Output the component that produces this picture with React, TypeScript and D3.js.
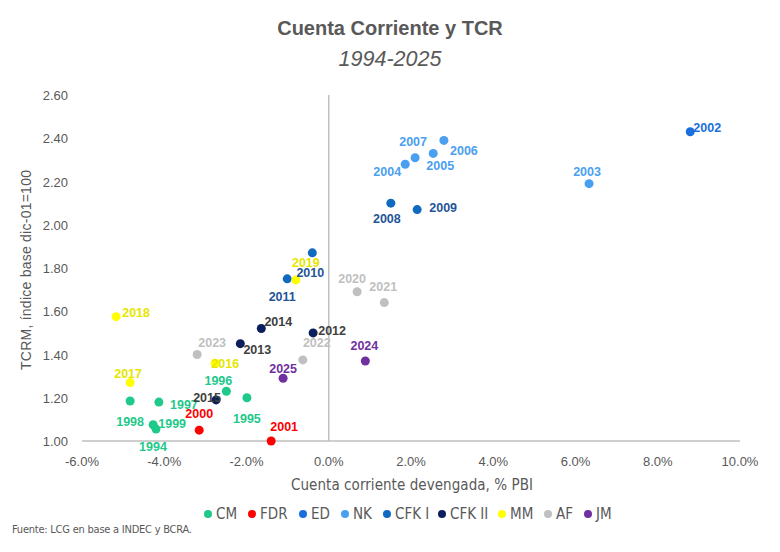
import React, { useEffect, useRef } from "react";
import * as d3 from "d3";

const years = [
  1994, 1995, 1996, 1997, 1998, 1999, 2000, 2001, 2002, 2003, 2004, 2005, 2006,
  2007, 2008, 2009, 2010, 2011, 2012, 2013, 2014, 2015, 2016, 2017, 2018, 2019,
  2020, 2021, 2022, 2023, 2024, 2025,
];

// cuenta corriente devengada, % PBI
const cuentaCorriente = [
  -4.2, -1.99, -2.49, -4.13, -4.83, -4.27, -3.15, -1.4, 8.79, 6.33, 1.86, 2.54,
  2.8, 2.1, 1.51, 2.15, -0.4, -1.01, -0.38, -2.15, -1.64, -2.74, -2.76, -4.83,
  -5.17, -0.8, 0.69, 1.35, -0.63, -3.2, 0.89, -1.11,
];

// TCRM, indice base dic-01 = 1
const tcrm = [
  1.055, 1.2, 1.23, 1.18, 1.185, 1.075, 1.05, 1.0, 2.43, 2.19, 2.28, 2.33, 2.39,
  2.31, 2.1, 2.07, 1.87, 1.75, 1.5, 1.45, 1.52, 1.19, 1.36, 1.27, 1.575, 1.745,
  1.69, 1.64, 1.375, 1.4, 1.37, 1.29,
];

const gobierno = [
  "CM", "CM", "CM", "CM", "CM", "CM", "FDR", "FDR", "ED", "NK", "NK", "NK", "NK",
  "NK", "CFK I", "CFK I", "CFK I", "CFK I", "CFK II", "CFK II", "CFK II",
  "CFK II", "MM", "MM", "MM", "MM", "AF", "AF", "AF", "AF", "JM", "JM",
];

const gobiernos = ["CM", "FDR", "ED", "NK", "CFK I", "CFK II", "MM", "AF", "JM"];

const xTicks = [-6, -4, -2, 0, 2, 4, 6, 8, 10];
const yTicks = [1.0, 1.2, 1.4, 1.6, 1.8, 2.0, 2.2, 2.4, 2.6];

const dotColor: Record<string, string> = {
  CM: "#1ec98a",
  FDR: "#ff0000",
  ED: "#1a6fdc",
  NK: "#4a9ff0",
  "CFK I": "#0f6ac0",
  "CFK II": "#0a1f5c",
  MM: "#ffff00",
  AF: "#c0c0c0",
  JM: "#7030a0",
};

const labelColor: Record<string, string> = {
  CM: "#1ec98a",
  FDR: "#ff0000",
  ED: "#1a6fdc",
  NK: "#4a9ff0",
  "CFK I": "#1f5597",
  "CFK II": "#404040",
  MM: "#e6e600",
  AF: "#bfbfbf",
  JM: "#7030a0",
};

// desplazamiento de cada etiqueta respecto de su punto (centro del texto)
const labelOffset: Record<number, [number, number]> = {
  1994: [-3, 17], 1995: [0, 21], 1996: [-8, -11], 1997: [25, 2],
  1998: [0, 21], 1999: [19, -1], 2000: [0, -17], 2001: [13, -15],
  2002: [17, -4], 2003: [-2, -12], 2004: [-18, 7], 2005: [7, 12],
  2006: [20, 10], 2007: [-2, -16], 2008: [-4, 15], 2009: [26, -2],
  2010: [-2, 20], 2011: [-5, 18], 2012: [19, -2], 2013: [17, 6],
  2014: [17, -7], 2015: [-9, -2], 2016: [10, 0], 2017: [-2, -9],
  2018: [20, -4], 2019: [10, -17], 2020: [-5, -13], 2021: [-1, -16],
  2022: [14, -17], 2023: [15, -12], 2024: [-1, -15], 2025: [0, -10],
};

const W = 780;
const H = 552;
const gray = "#595959";
const sans = "'Liberation Sans', Arial, sans-serif";
const narrow = "'Liberation Sans Narrow', 'DejaVu Sans Condensed', sans-serif";

const pct = (d: number) => d3.format(".1f")(d).replace("\u2212", "-") + "%";

const App = () => {
  const ref = useRef<SVGSVGElement>(null);

  useEffect(() => {
    const svg = d3.select(ref.current);
    svg.selectAll("*").remove();

    const margin = { top: 95, right: 40, bottom: 111, left: 82 };

    const x = d3
      .scaleLinear()
      .domain([-6, 10])
      .range([margin.left, W - margin.right]);
    const y = d3
      .scaleLinear()
      .domain([1, 2.6])
      .range([H - margin.bottom, margin.top]);

    // titulo
    svg
      .append("text")
      .attr("x", 390)
      .attr("y", 35)
      .attr("text-anchor", "middle")
      .attr("font-family", sans)
      .attr("font-weight", "bold")
      .attr("font-size", 20)
      .attr("fill", gray)
      .text("Cuenta Corriente y TCR");
    svg
      .append("text")
      .attr("x", 390)
      .attr("y", 66)
      .attr("text-anchor", "middle")
      .attr("font-family", sans)
      .attr("font-style", "italic")
      .attr("font-size", 21.5)
      .attr("fill", gray)
      .text("1994-2025");

    // ejes
    svg
      .append("line")
      .attr("x1", x(-6))
      .attr("x2", x(10))
      .attr("y1", y(1))
      .attr("y2", y(1))
      .attr("stroke", "#bfbfbf")
      .attr("stroke-width", 1.5);
    svg
      .append("line")
      .attr("x1", x(0))
      .attr("x2", x(0))
      .attr("y1", y(2.6))
      .attr("y2", y(1))
      .attr("stroke", "#bfbfbf")
      .attr("stroke-width", 1.5);

    svg
      .append("g")
      .selectAll("text")
      .data(xTicks)
      .join("text")
      .attr("x", (d) => x(d))
      .attr("y", y(1) + 25)
      .attr("text-anchor", "middle")
      .attr("font-family", sans)
      .attr("font-size", 13)
      .attr("fill", gray)
      .text(pct);

    svg
      .append("g")
      .selectAll("text")
      .data(yTicks)
      .join("text")
      .attr("x", 68)
      .attr("y", (d) => y(d) + 5)
      .attr("text-anchor", "end")
      .attr("font-family", sans)
      .attr("font-size", 13)
      .attr("fill", gray)
      .text((d) => d3.format(".2f")(d));

    svg
      .append("text")
      .attr("x", 412)
      .attr("y", 490)
      .attr("text-anchor", "middle")
      .attr("font-family", narrow)
      .attr("font-size", 15)
      .attr("fill", gray)
      .attr("textLength", 242)
      .text("Cuenta corriente devengada, % PBI");

    svg
      .append("text")
      .attr("transform", "translate(31,270) rotate(-90)")
      .attr("text-anchor", "middle")
      .attr("font-family", sans)
      .attr("font-size", 14)
      .attr("fill", gray)
      .attr("textLength", 200)
      .text("TCRM, índice base dic-01=100");

    const points = years.map((year, i) => ({
      year,
      cc: cuentaCorriente[i],
      tcrm: tcrm[i],
      gob: gobierno[i],
    }));

    // puntos
    svg
      .append("g")
      .selectAll("circle")
      .data(points)
      .join("circle")
      .attr("cx", (d) => x(d.cc))
      .attr("cy", (d) => y(d.tcrm))
      .attr("r", 4.5)
      .attr("fill", (d) => dotColor[d.gob]);

    // etiquetas de año
    svg
      .append("g")
      .selectAll("text")
      .data(points)
      .join("text")
      .attr("x", (d) => x(d.cc) + labelOffset[d.year][0])
      .attr("y", (d) => y(d.tcrm) + labelOffset[d.year][1] + 4.5)
      .attr("text-anchor", "middle")
      .attr("font-family", sans)
      .attr("font-weight", "bold")
      .attr("font-size", 12.5)
      .attr("fill", (d) => labelColor[d.gob])
      .text((d) => d.year);

    // leyenda
    const legendX = [208, 252, 303, 345, 387, 442, 502, 548, 588];
    const legend = svg
      .append("g")
      .selectAll("g")
      .data(gobiernos)
      .join("g")
      .attr("transform", (_, i) => `translate(${legendX[i]},514)`);
    legend
      .append("circle")
      .attr("r", 4)
      .attr("fill", (d) => dotColor[d]);
    legend
      .append("text")
      .attr("x", 8)
      .attr("y", 5)
      .attr("font-family", narrow)
      .attr("font-size", 15)
      .attr("fill", gray)
      .text((d) => d);

    svg
      .append("text")
      .attr("x", 12)
      .attr("y", 533)
      .attr("font-family", narrow)
      .attr("font-size", 11)
      .attr("fill", gray)
      .attr("textLength", 180)
      .text("Fuente: LCG  en base a INDEC y BCRA.");
  }, []);

  return (
    <svg
      ref={ref}
      width={W}
      height={H}
      style={{ position: "absolute", left: 0, top: 0, background: "#fff" }}
    />
  );
};

export default App;
